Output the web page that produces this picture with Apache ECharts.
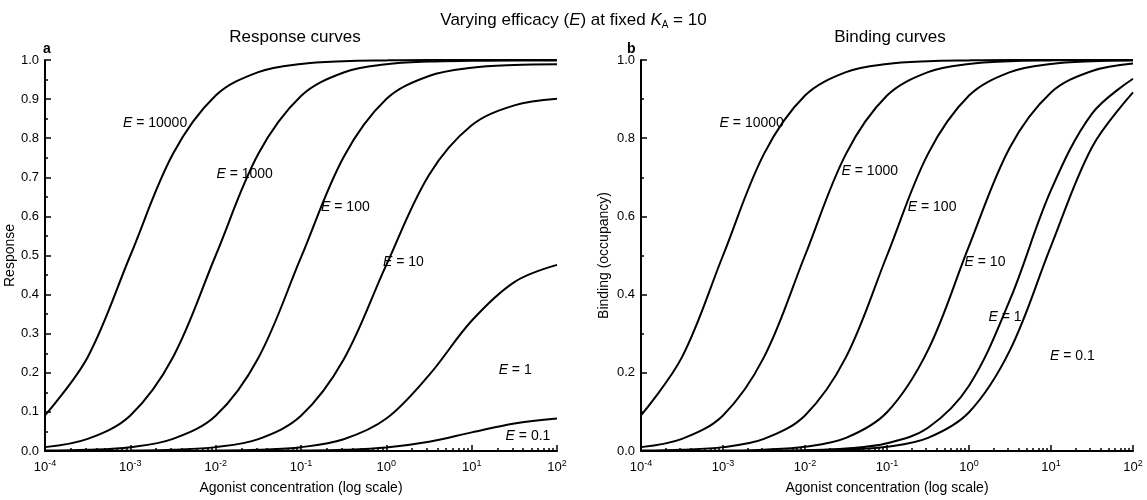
<!DOCTYPE html>
<html lang="en">
<head>
    <meta charset="UTF-8">
    <title>Varying efficacy</title>
    <style>
        * { margin: 0; padding: 0; }
        #box { width: 1147px; height: 500px; }
    </style>
</head>
<body>
    <div id="box"></div>
    <script src="https://cdn.jsdelivr.net/npm/echarts@6/dist/echarts.min.js"></script>
    <script>
        // concentration exponents (half-decade steps)
        var logConc = [-4, -3.5, -3, -2.5, -2, -1.5, -1, -0.5, 0, 0.5, 1, 1.5, 2];
        var efficacies = ['10000', '1000', '100', '10', '1', '0.1'];

        var response10000 = [0.091, 0.240, 0.5, 0.760, 0.909, 0.969, 0.990, 0.997, 0.999, 1, 1, 1, 1];
        var response1000 = [0.0099, 0.031, 0.091, 0.240, 0.5, 0.760, 0.908, 0.968, 0.989, 0.996, 0.998, 0.999, 0.999];
        var response100 = [0.001, 0.003, 0.0098, 0.031, 0.090, 0.238, 0.495, 0.752, 0.900, 0.959, 0.980, 0.987, 0.989];
        var response10 = [0.0001, 0.0003, 0.001, 0.0032, 0.0099, 0.0305, 0.090, 0.234, 0.476, 0.706, 0.833, 0.884, 0.901];
        var response1 = [0.00001, 0.00003, 0.0001, 0.0003, 0.001, 0.0032, 0.0098, 0.030, 0.083, 0.194, 0.333, 0.432, 0.476];
        var response01 = [0, 0, 0, 0, 0.0001, 0.0003, 0.001, 0.0031, 0.009, 0.0235, 0.0476, 0.0706, 0.0833];

        var binding10000 = [0.091, 0.240, 0.5, 0.760, 0.909, 0.969, 0.990, 0.997, 0.999, 1, 1, 1, 1];
        var binding1000 = [0.0099, 0.031, 0.091, 0.240, 0.5, 0.760, 0.909, 0.969, 0.990, 0.997, 0.999, 1, 1];
        var binding100 = [0.001, 0.0032, 0.0099, 0.031, 0.091, 0.240, 0.5, 0.760, 0.909, 0.969, 0.990, 0.997, 0.999];
        var binding10 = [0.0001, 0.0003, 0.0011, 0.0035, 0.0109, 0.0336, 0.099, 0.258, 0.524, 0.777, 0.917, 0.972, 0.991];
        var binding1 = [0.00002, 0.00006, 0.0002, 0.0006, 0.002, 0.0063, 0.0196, 0.0595, 0.167, 0.387, 0.667, 0.863, 0.952];
        var binding01 = [0.00001, 0.00004, 0.0001, 0.0003, 0.0011, 0.0035, 0.0109, 0.0336, 0.099, 0.258, 0.524, 0.777, 0.917];

        // curve label anchors [log conc, value]
        var responseLabels = [[-2.71, 0.839], [-1.66, 0.707], [-0.48, 0.623], [0.2, 0.484], [1.51, 0.206], [1.66, 0.037]];
        var bindingLabels = [[-2.65, 0.839], [-1.21, 0.715], [-0.45, 0.623], [0.195, 0.484], [0.44, 0.342], [1.26, 0.243]];

        var responseData = [response10000, response1000, response100, response10, response1, response01];
        var bindingData = [binding10000, binding1000, binding100, binding10, binding1, binding01];

        var font = 'Liberation Sans';
        var chart = echarts.init(document.getElementById('box'));

        function xAxis(idx) {
            return {
                type: 'log', logBase: 10, gridIndex: idx, min: 1e-4, max: 100,
                name: 'Agonist concentration (log scale)', nameLocation: 'middle', nameGap: 30,
                nameTextStyle: { fontFamily: font, fontSize: 14, color: '#000' },
                axisLine: { lineStyle: { color: '#000', width: 2 } },
                axisTick: { inside: true, length: 6, lineStyle: { color: '#000', width: 1.5 } },
                minorTick: { show: true, splitNumber: 9, length: 3, lineStyle: { color: '#000', width: 1.5 } },
                splitLine: { show: false },
                axisLabel: {
                    color: '#000', fontFamily: font, fontSize: 13, margin: 8,
                    formatter: function (v) { return '10{s|' + Math.round(Math.log10(v)) + '}'; },
                    rich: { s: { fontSize: 9, verticalAlign: 'top', padding: [0, 0, 8, 0], fontFamily: font, color: '#000' } }
                }
            };
        }
        function yAxis(idx, name, step, gap) {
            return {
                type: 'value', gridIndex: idx, min: 0, max: 1, interval: step,
                name: name, nameLocation: 'middle', nameGap: gap,
                nameTextStyle: { fontFamily: font, fontSize: 14, color: '#000' },
                axisLine: { show: true, lineStyle: { color: '#000', width: 2 } },
                axisTick: { inside: true, length: 6, lineStyle: { color: '#000', width: 1.5 } },
                minorTick: { show: true, splitNumber: 2, length: 3, lineStyle: { color: '#000', width: 1.5 } },
                splitLine: { show: false },
                axisLabel: { color: '#000', fontFamily: font, fontSize: 13, margin: 6, formatter: function (v) { return v.toFixed(1); } }
            };
        }

        var series = [];
        function addCurves(data, labels, idx) {
            data.forEach(function (vals, i) {
                series.push({
                    type: 'line', xAxisIndex: idx, yAxisIndex: idx, smooth: 0.35, showSymbol: false,
                    lineStyle: { color: '#000', width: 2 },
                    data: logConc.map(function (k, j) { return [Math.pow(10, k), vals[j]]; }),
                    markPoint: {
                        symbol: 'rect', symbolSize: 0,
                        data: [{
                            coord: [Math.pow(10, labels[i][0]), labels[i][1]],
                            label: {
                                show: true, formatter: '{e|E} = ' + efficacies[i],
                                fontFamily: font, fontSize: 14, color: '#000',
                                rich: { e: { fontStyle: 'italic', fontFamily: font, fontSize: 14, color: '#000' } }
                            }
                        }]
                    }
                });
            });
        }
        addCurves(responseData, responseLabels, 0);
        addCurves(bindingData, bindingLabels, 1);

        var option = {
            animation: false,
            title: [
                { text: 'Varying efficacy ({i|E}) at fixed {i|K}{s|A} = 10', left: 'center', top: 5,
                  textStyle: { fontFamily: font, fontSize: 17, fontWeight: 'normal', color: '#000',
                      rich: { i: { fontStyle: 'italic', fontFamily: font, fontSize: 17 }, s: { fontFamily: font, fontSize: 10, verticalAlign: 'bottom', padding: [10, 0, 0, 0] } } } },
                { text: 'Response curves', left: 290, textAlign: 'center', top: 24, textStyle: { fontFamily: font, fontSize: 17, fontWeight: 'normal', color: '#000' } },
                { text: 'Binding curves', left: 885, textAlign: 'center', top: 24, textStyle: { fontFamily: font, fontSize: 17, fontWeight: 'normal', color: '#000' } },
                { text: 'a', left: 38, top: 37, textStyle: { fontFamily: font, fontSize: 14, fontWeight: 'bold', color: '#000' } },
                { text: 'b', left: 622, top: 37, textStyle: { fontFamily: font, fontSize: 14, fontWeight: 'bold', color: '#000' } }
            ],
            grid: [
                { left: 45, right: 590, top: 60, bottom: 37 },
                { left: 641, right: 14, top: 60, bottom: 37 }
            ],
            xAxis: [xAxis(0), xAxis(1)],
            yAxis: [yAxis(0, 'Response', 0.1, 27), yAxis(1, 'Binding (occupancy)', 0.2, 30)],
            series: series
        };
        chart.setOption(option);
    </script>
</body>
</html>
